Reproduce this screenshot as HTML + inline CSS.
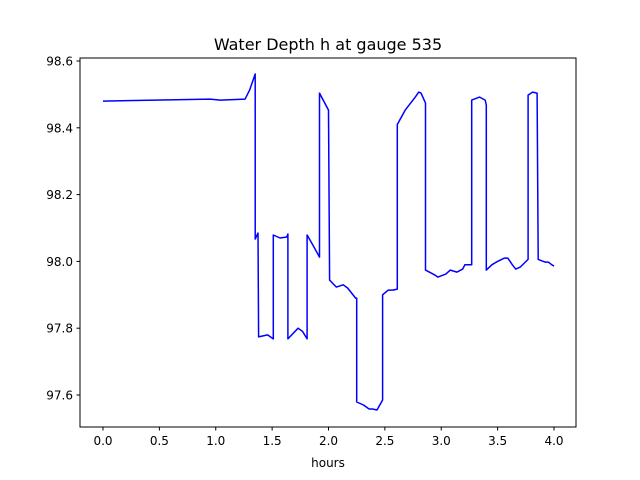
<!DOCTYPE html>
<html><head><meta charset="utf-8"><style>
body{margin:0;background:#fff;}
svg{display:block;font-family:"DejaVu Sans","Liberation Sans",sans-serif;}
</style></head><body>
<svg id="chart" width="640" height="480" viewBox="0 0 640 480">
<rect width="640" height="480" fill="#fff"/>
<text x="328" y="50" text-anchor="middle" font-size="16" fill="#000">Water Depth h at gauge 535</text>
<g id="xticks"></g>
<g id="yticks"></g>
<text x="328" y="467" text-anchor="middle" font-size="12">hours</text>
<polyline id="line" fill="none" stroke="#0000ff" stroke-width="1.5" stroke-linejoin="round"/>
<rect x="80" y="58" width="496" height="369" fill="none" stroke="#000" stroke-width="1"/>
</svg>
<script>
const hours=[0,0.95,1.04,1.26,1.30,1.35,1.35,1.375,1.38,1.46,1.51,1.51,1.57,1.63,1.64,1.64,1.73,1.77,1.81,1.81,1.86,1.92,1.92,2.00,2.01,2.07,2.13,2.17,2.24,2.25,2.25,2.31,2.36,2.39,2.43,2.48,2.48,2.53,2.57,2.61,2.61,2.68,2.77,2.80,2.82,2.86,2.86,2.94,2.97,3.04,3.08,3.14,3.19,3.21,3.27,3.27,3.34,3.39,3.40,3.40,3.45,3.50,3.56,3.59,3.63,3.66,3.70,3.77,3.77,3.81,3.85,3.86,3.92,3.95,3.98,4.0];
const depth=[98.48,98.486,98.483,98.486,98.513,98.561,98.067,98.085,97.774,97.78,97.768,98.079,98.07,98.073,98.082,97.768,97.80,97.79,97.768,98.079,98.05,98.013,98.504,98.453,97.944,97.923,97.93,97.92,97.89,97.89,97.579,97.57,97.558,97.558,97.555,97.585,97.90,97.914,97.914,97.917,98.41,98.453,98.492,98.507,98.504,98.474,97.974,97.96,97.953,97.962,97.974,97.968,97.977,97.99,97.99,98.483,98.492,98.483,98.468,97.974,97.99,98.00,98.01,98.01,97.99,97.977,97.983,98.006,98.498,98.507,98.504,98.006,97.998,97.998,97.99,97.986];
const xTickVals=[0,0.5,1.0,1.5,2.0,2.5,3.0,3.5,4.0];
const yTickVals=[97.6,97.8,98.0,98.2,98.4,98.6];
const X=v=>103+v*112.75;
const Y=v=>395-(v-97.6)*334;
const ns="http://www.w3.org/2000/svg";
document.getElementById('line').setAttribute('points',hours.map((h,i)=>X(h).toFixed(1)+','+Y(depth[i]).toFixed(1)).join(' '));
const xg=document.getElementById('xticks');
xTickVals.forEach(v=>{
  const l=document.createElementNS(ns,'line');
  
  
  l.setAttribute('x1',X(v));l.setAttribute('x2',X(v));l.setAttribute('y1',427);l.setAttribute('y2',430.5);l.setAttribute('stroke','#000');
  xg.appendChild(l);
  const t=document.createElementNS(ns,'text');
  
  
  t.setAttribute('x',X(v));t.setAttribute('y',445);t.setAttribute('text-anchor','middle');t.setAttribute('font-size','12');
  t.textContent=v.toFixed(1);xg.appendChild(t);
});
const yg=document.getElementById('yticks');
yTickVals.forEach(v=>{
  const l=document.createElementNS(ns,'line');
  
  
  l.setAttribute('x1',76.5);l.setAttribute('x2',80);l.setAttribute('y1',Y(v));l.setAttribute('y2',Y(v));l.setAttribute('stroke','#000');
  yg.appendChild(l);
  const t=document.createElementNS(ns,'text');
  
  
  t.setAttribute('x',73);t.setAttribute('y',Y(v)+4.5);t.setAttribute('text-anchor','end');t.setAttribute('font-size','12');
  t.textContent=v.toFixed(1);yg.appendChild(t);
});
</script>
</body></html>
